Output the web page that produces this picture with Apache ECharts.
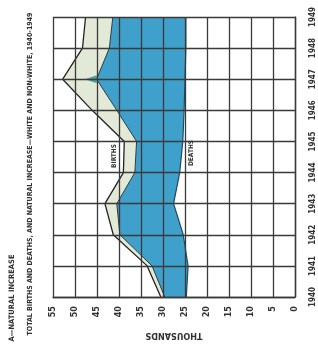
<!DOCTYPE html>
<html>
<head>
<meta charset="utf-8">
<script src="https://cdn.jsdelivr.net/npm/echarts@6/dist/echarts.min.js"></script>
<style>
  html, body { margin: 0; padding: 0; background: #fff; }
  #chart { width: 318px; height: 349px; }
</style>
</head>
<body>
<div id="chart"></div>
<script>
// years along the (rotated) category axis, 1940 at the bottom
var years = ['1940', '1941', '1942', '1943', '1944', '1945', '1946', '1947', '1948', '1949'];
// thousands
var birthsTotal = [30.5, 33.6, 41.3, 43.2, 39.0, 38.8, 46.1, 52.8, 48.3, 47.6];
var birthsInner = [29.6, 32.5, 39.8, 40.5, 36.4, 36.0, 40.5, 45.1, 42.2, 41.4];
var deaths = [24.7, 24.3, 25.4, 27.6, 26.2, 25.5, 25.2, 25.0, 24.8, 24.8];
// small dark notch at 1947
var notch = [[46.4, 7]];
var valueMax = 55;
var valueStep = 5;

var condensed = "'Liberation Sans Narrow', 'DejaVu Sans Condensed', 'Roboto Condensed', sans-serif";
var gridColor = '#3a3a3a';

// the library stacks bands, so hand it the differences
var blueBand = birthsInner.map(function(v, i) { return +(v - deaths[i]).toFixed(2); });
var paleBand = birthsTotal.map(function(v, i) { return +(v - birthsInner[i]).toFixed(2); });

var myChart = echarts.init(document.getElementById('chart'), null, { renderer: 'canvas' });

var option = {
  backgroundColor: '#fff',
  animation: false,
  grid: { left: 53, right: 23, top: 17, bottom: 52, containLabel: false, outerBoundsMode: 'none' },
  // value axis runs right to left
  xAxis: {
    type: 'value',
    min: 0,
    max: valueMax,
    interval: valueStep,
    inverse: true,
    position: 'bottom',
    z: 10,
    name: 'THOUSANDS',
    nameLocation: 'middle',
    nameRotate: 180,
    nameGap: 34,
    nameTextStyle: { fontFamily: condensed, fontWeight: 'bold', fontSize: 9, color: '#333' },
    axisLine: { show: true, lineStyle: { color: gridColor, width: 1.4 } },
    axisTick: { show: false },
    axisLabel: { rotate: 90, margin: 9, fontSize: 9, fontWeight: 'bold', fontFamily: condensed, color: '#333' },
    splitLine: { show: true, lineStyle: { color: gridColor, width: 1.3 } }
  },
  yAxis: {
    type: 'category',
    data: years,
    boundaryGap: false,
    position: 'right',
    z: 10,
    name: 'YEAR',
    nameLocation: 'middle',
    nameRotate: 90,
    nameGap: 22,
    nameTextStyle: { fontFamily: condensed, fontWeight: 'bold', fontSize: 7, color: '#666' },
    axisLine: { show: true, lineStyle: { color: gridColor, width: 1.4 } },
    axisTick: { show: false },
    axisLabel: { rotate: 90, margin: 18, fontSize: 8, fontWeight: 'bold', fontFamily: condensed, color: '#333',
      align: 'center', verticalAlign: 'middle', interval: 0 },
    splitLine: { show: true, interval: 0, lineStyle: { color: gridColor, width: 1.3 } }
  },
  series: [
    {
      // deaths edge
      name: 'deaths',
      type: 'line',
      stack: 'b',
      data: deaths,
      symbol: 'none',
      lineStyle: { color: '#1d4a60', width: 1.2 }
    },
    {
      name: 'blue',
      type: 'line',
      stack: 'b',
      data: blueBand,
      symbol: 'none',
      lineStyle: { color: '#2a3a40', width: 1 },
      areaStyle: { color: '#3fa0cb', opacity: 1 }
    },
    {
      name: 'pale',
      type: 'line',
      stack: 'b',
      data: paleBand,
      symbol: 'none',
      lineStyle: { color: '#222', width: 1.3 },
      areaStyle: { color: '#e3e9d7', opacity: 1 }
    },
    {
      name: 'notch',
      type: 'scatter',
      data: notch,
      symbol: 'triangle',
      symbolRotate: 90,
      symbolSize: [8, 12],
      itemStyle: { color: '#2b8a92' },
      z: 5
    }
  ],
  graphic: [
    {
      type: 'text', x: 12.5, y: 298, rotation: Math.PI / 2,
      style: { text: 'A—NATURAL INCREASE', fontFamily: condensed, fontWeight: 'bold', fontSize: 7.5,
        fill: '#333', align: 'center', verticalAlign: 'middle' }
    },
    {
      type: 'text', x: 30.5, y: 174, rotation: Math.PI / 2,
      style: { text: 'TOTAL BIRTHS AND DEATHS, AND NATURAL INCREASE—WHITE AND NON-WHITE, 1940-1949',
        fontFamily: condensed, fontWeight: 'bold', fontSize: 7,
        fill: '#333', align: 'center', verticalAlign: 'middle' }
    },
    {
      type: 'text', x: 114, y: 156, rotation: Math.PI / 2, z: 20,
      style: { text: 'BIRTHS', fontFamily: condensed, fontWeight: 'bold', fontSize: 6.5,
        fill: '#333', align: 'center', verticalAlign: 'middle' }
    },
    {
      type: 'text', x: 191.5, y: 153, rotation: Math.PI / 2, z: 20,
      style: { text: 'DEATHS', fontFamily: condensed, fontWeight: 'bold', fontSize: 6.5,
        fill: '#333', align: 'center', verticalAlign: 'middle' }
    }
  ]
};

myChart.setOption(option);
</script>
</body>
</html>
